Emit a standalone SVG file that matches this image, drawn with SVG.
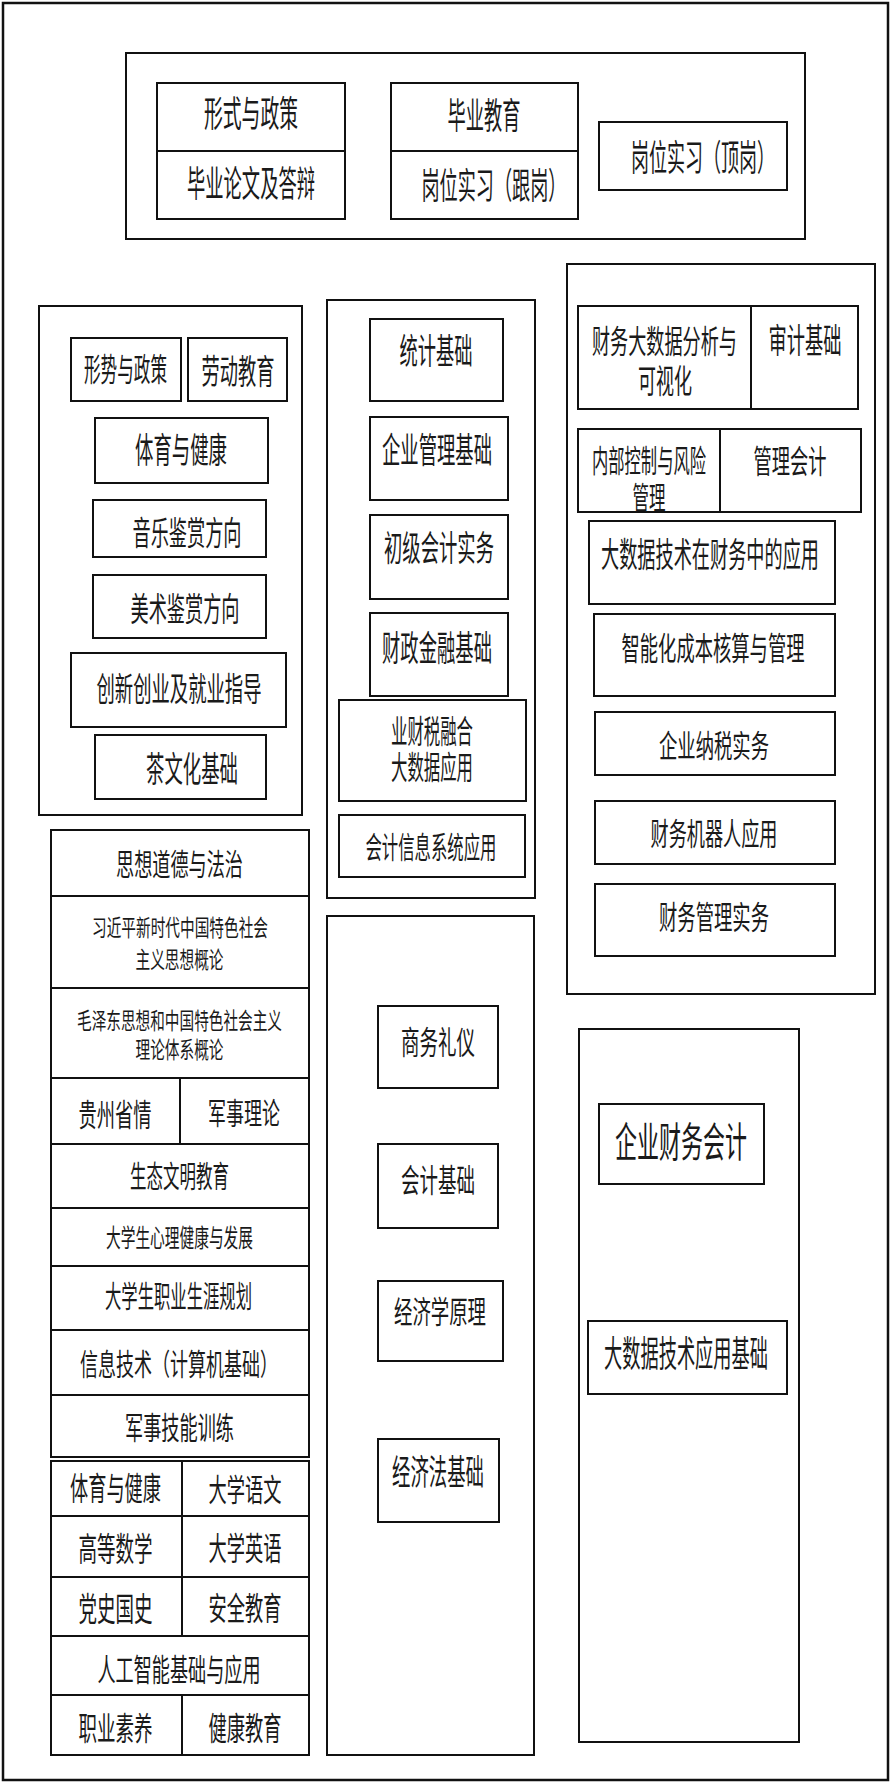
<svg xmlns="http://www.w3.org/2000/svg" width="891" height="1783" viewBox="0 0 891 1783">
<style>
rect{fill:#fff;stroke:#111;stroke-width:2}
.c{fill:#fff;stroke:#111;stroke-width:2}
text{font-family:"Noto Sans CJK SC","Noto Sans CJK JP",sans-serif;fill:#1a1a1a;text-anchor:middle}
</style>
<rect x="0" y="0" width="891" height="1783" style="stroke:none"/>
<rect x="3" y="3" width="885" height="1777" style="stroke-width:2.5"/>

<g id="top-container">
<rect x="126" y="53" width="679" height="186"/>
<g id="n-xingshi"><rect x="157" y="83" width="188" height="68"/><text x="251" y="126.7" font-size="36" textLength="94" lengthAdjust="spacingAndGlyphs">形式与政策</text></g>
<g id="n-biyelunwen"><rect x="157" y="151" width="188" height="68"/><text x="251" y="196.7" font-size="36" textLength="128" lengthAdjust="spacingAndGlyphs">毕业论文及答辩</text></g>
<g id="n-biyejiaoyu"><rect x="391" y="83" width="187" height="68"/><text x="484" y="128.7" font-size="36" textLength="73" lengthAdjust="spacingAndGlyphs">毕业教育</text></g>
<g id="n-genggang"><rect x="391" y="151" width="187" height="68"/><text x="494" y="198.7" font-size="36" textLength="145" lengthAdjust="spacingAndGlyphs">岗位实习（跟岗）</text></g>
<g id="n-dinggang"><rect x="599" y="122" width="188" height="68"/><text x="703" y="170.7" font-size="36" textLength="144" lengthAdjust="spacingAndGlyphs">岗位实习（顶岗）</text></g>
</g>

<g id="left-upper">
<rect x="39" y="306" width="263" height="509"/>
<g id="n-xingshi2"><rect x="71" y="338" width="110" height="63"/><text x="125.5" y="381.2" font-size="32" textLength="83" lengthAdjust="spacingAndGlyphs">形势与政策</text></g>
<g id="n-laodong"><rect x="188" y="338" width="99" height="63"/><text x="238" y="383.9" font-size="34" textLength="73" lengthAdjust="spacingAndGlyphs">劳动教育</text></g>
<g id="n-tiyu1"><rect x="95" y="418" width="173" height="65"/><text x="181" y="463.3" font-size="35" textLength="92" lengthAdjust="spacingAndGlyphs">体育与健康</text></g>
<g id="n-yinyue"><rect x="93" y="500" width="173" height="57"/><text x="187" y="544.5" font-size="33" textLength="109" lengthAdjust="spacingAndGlyphs">音乐鉴赏方向</text></g>
<g id="n-meishu"><rect x="93" y="575" width="173" height="63"/><text x="185" y="620.5" font-size="33" textLength="109" lengthAdjust="spacingAndGlyphs">美术鉴赏方向</text></g>
<g id="n-chuangxin"><rect x="71" y="653" width="215" height="74"/><text x="179" y="700.5" font-size="33" textLength="165" lengthAdjust="spacingAndGlyphs">创新创业及就业指导</text></g>
<g id="n-chawenhua"><rect x="95" y="735" width="171" height="64"/><text x="192" y="782.3" font-size="35" textLength="92" lengthAdjust="spacingAndGlyphs">茶文化基础</text></g>
</g>

<g id="middle-upper">
<rect x="327" y="300" width="208" height="598"/>
<g id="n-tongji"><rect x="370" y="319" width="133" height="82"/><text x="436" y="364.3" font-size="35" textLength="73" lengthAdjust="spacingAndGlyphs">统计基础</text></g>
<g id="n-qiyeguanli"><rect x="370" y="417" width="138" height="83"/><text x="437" y="463.3" font-size="35" textLength="110" lengthAdjust="spacingAndGlyphs">企业管理基础</text></g>
<g id="n-chuji"><rect x="370" y="515" width="138" height="84"/><text x="439" y="561.3" font-size="35" textLength="110" lengthAdjust="spacingAndGlyphs">初级会计实务</text></g>
<g id="n-caizheng"><rect x="370" y="613" width="138" height="83"/><text x="437" y="661.3" font-size="35" textLength="110" lengthAdjust="spacingAndGlyphs">财政金融基础</text></g>
<g id="n-yecaishui"><rect x="339" y="700" width="187" height="101"/><text x="432" y="743.2" font-size="32" textLength="82" lengthAdjust="spacingAndGlyphs">业财税融合</text><text x="432" y="779.2" font-size="32" textLength="82" lengthAdjust="spacingAndGlyphs">大数据应用</text></g>
<g id="n-kuaijixinxi"><rect x="339" y="815" width="186" height="62"/><text x="431" y="858.4" font-size="30" textLength="131" lengthAdjust="spacingAndGlyphs">会计信息系统应用</text></g>
</g>

<g id="right-upper">
<rect x="567" y="264" width="308" height="730"/>
<g id="n-caiwudashuju"><rect x="578" y="306" width="173" height="103"/><text x="664.5" y="353.2" font-size="32" textLength="145" lengthAdjust="spacingAndGlyphs">财务大数据分析与</text><text x="665" y="392.5" font-size="33" textLength="54" lengthAdjust="spacingAndGlyphs">可视化</text></g>
<g id="n-shenji"><rect x="751" y="306" width="107" height="103"/><text x="805" y="352.9" font-size="34" textLength="73" lengthAdjust="spacingAndGlyphs">审计基础</text></g>
<g id="n-neibu"><rect x="578" y="429" width="142" height="83"/><text x="649" y="471.8" font-size="31" textLength="114" lengthAdjust="spacingAndGlyphs">内部控制与风险</text><text x="649" y="508.8" font-size="31" textLength="33" lengthAdjust="spacingAndGlyphs">管理</text></g>
<g id="n-guanlikuaiji"><rect x="720" y="429" width="141" height="83"/><text x="790" y="473.2" font-size="32" textLength="73" lengthAdjust="spacingAndGlyphs">管理会计</text></g>
<g id="n-dashujucaiwu"><rect x="589" y="521" width="246" height="83"/><text x="710" y="566.9" font-size="34" textLength="218" lengthAdjust="spacingAndGlyphs">大数据技术在财务中的应用</text></g>
<g id="n-zhineng"><rect x="594" y="614" width="241" height="82"/><text x="713" y="660.2" font-size="32" textLength="183" lengthAdjust="spacingAndGlyphs">智能化成本核算与管理</text></g>
<g id="n-nashui"><rect x="595" y="712" width="240" height="63"/><text x="714" y="756.8" font-size="31" textLength="110" lengthAdjust="spacingAndGlyphs">企业纳税实务</text></g>
<g id="n-jiqiren"><rect x="595" y="801" width="240" height="63"/><text x="714" y="844.8" font-size="31" textLength="127" lengthAdjust="spacingAndGlyphs">财务机器人应用</text></g>
<g id="n-caiwuguanli"><rect x="595" y="884" width="240" height="72"/><text x="714" y="929.2" font-size="32" textLength="110" lengthAdjust="spacingAndGlyphs">财务管理实务</text></g>
</g>

<g id="left-lower">
<g id="n-sixiang"><rect x="51" y="830" width="258" height="66"/><text x="179.5" y="875.4" font-size="30" textLength="127" lengthAdjust="spacingAndGlyphs">思想道德与法治</text></g>
<g id="n-xi"><rect x="51" y="896" width="258" height="92"/><text x="180" y="935.7" font-size="23" textLength="176" lengthAdjust="spacingAndGlyphs">习近平新时代中国特色社会</text><text x="179.5" y="967.7" font-size="23" textLength="88" lengthAdjust="spacingAndGlyphs">主义思想概论</text></g>
<g id="n-mao"><rect x="51" y="988" width="258" height="90"/><text x="179.5" y="1028.7" font-size="23" textLength="205" lengthAdjust="spacingAndGlyphs">毛泽东思想和中国特色社会主义</text><text x="179.5" y="1057.7" font-size="23" textLength="88" lengthAdjust="spacingAndGlyphs">理论体系概论</text></g>
<g id="n-guizhou"><rect x="51" y="1078" width="129" height="66"/><text x="115" y="1125.8" font-size="31" textLength="73" lengthAdjust="spacingAndGlyphs">贵州省情</text></g>
<g id="n-junshililun"><rect x="180" y="1078" width="129" height="66"/><text x="244" y="1124.4" font-size="30" textLength="72" lengthAdjust="spacingAndGlyphs">军事理论</text></g>
<g id="n-shengtai"><rect x="51" y="1144" width="258" height="64"/><text x="179.5" y="1187.4" font-size="30" textLength="99" lengthAdjust="spacingAndGlyphs">生态文明教育</text></g>
<g id="n-xinli"><rect x="51" y="1208" width="258" height="58"/><text x="179.5" y="1246.5" font-size="25" textLength="147" lengthAdjust="spacingAndGlyphs">大学生心理健康与发展</text></g>
<g id="n-zhiyeshengya"><rect x="51" y="1266" width="258" height="64"/><text x="178.5" y="1307.4" font-size="30" textLength="147" lengthAdjust="spacingAndGlyphs">大学生职业生涯规划</text></g>
<g id="n-xinxi"><rect x="51" y="1330" width="258" height="65"/><text x="179" y="1375.4" font-size="30" textLength="198" lengthAdjust="spacingAndGlyphs">信息技术（计算机基础）</text></g>
<g id="n-junshijineng"><rect x="51" y="1395" width="258" height="62"/><text x="179.5" y="1438.8" font-size="31" textLength="109" lengthAdjust="spacingAndGlyphs">军事技能训练</text></g>
<g id="n-tiyu2"><rect x="51" y="1461" width="131" height="55"/><text x="115.5" y="1500.2" font-size="32" textLength="91" lengthAdjust="spacingAndGlyphs">体育与健康</text></g>
<g id="n-yuwen"><rect x="182" y="1461" width="127" height="55"/><text x="245" y="1500.8" font-size="31" textLength="73" lengthAdjust="spacingAndGlyphs">大学语文</text></g>
<g id="n-shuxue"><rect x="51" y="1516" width="131" height="61"/><text x="115.5" y="1560.5" font-size="33" textLength="74" lengthAdjust="spacingAndGlyphs">高等数学</text></g>
<g id="n-yingyu"><rect x="182" y="1516" width="127" height="61"/><text x="245" y="1560.2" font-size="32" textLength="73" lengthAdjust="spacingAndGlyphs">大学英语</text></g>
<g id="n-dangshi"><rect x="51" y="1577" width="131" height="59"/><text x="115.5" y="1620.5" font-size="33" textLength="74" lengthAdjust="spacingAndGlyphs">党史国史</text></g>
<g id="n-anquan"><rect x="182" y="1577" width="127" height="59"/><text x="245" y="1620.2" font-size="32" textLength="73" lengthAdjust="spacingAndGlyphs">安全教育</text></g>
<g id="n-rengong"><rect x="51" y="1636" width="258" height="59"/><text x="179" y="1680.8" font-size="31" textLength="163" lengthAdjust="spacingAndGlyphs">人工智能基础与应用</text></g>
<g id="n-suyang"><rect x="51" y="1695" width="131" height="60"/><text x="115.5" y="1740.2" font-size="32" textLength="74" lengthAdjust="spacingAndGlyphs">职业素养</text></g>
<g id="n-jiankang"><rect x="182" y="1695" width="127" height="60"/><text x="245" y="1740.2" font-size="32" textLength="73" lengthAdjust="spacingAndGlyphs">健康教育</text></g>
</g>

<g id="middle-lower">
<rect x="327" y="916" width="207" height="839"/>
<g id="n-shangwu"><rect x="378" y="1006" width="120" height="82"/><text x="438" y="1054.2" font-size="32" textLength="74" lengthAdjust="spacingAndGlyphs">商务礼仪</text></g>
<g id="n-kuaijijichu"><rect x="378" y="1144" width="120" height="84"/><text x="438" y="1192.2" font-size="32" textLength="74" lengthAdjust="spacingAndGlyphs">会计基础</text></g>
<g id="n-jingjixue"><rect x="378" y="1281" width="125" height="80"/><text x="440" y="1322.8" font-size="31" textLength="92" lengthAdjust="spacingAndGlyphs">经济学原理</text></g>
<g id="n-jingjifa"><rect x="378" y="1439" width="121" height="83"/><text x="438" y="1485.3" font-size="35" textLength="92" lengthAdjust="spacingAndGlyphs">经济法基础</text></g>
</g>

<g id="right-lower">
<rect x="579" y="1029" width="220" height="713"/>
<g id="n-qiyecaiwu"><rect x="599" y="1104" width="165" height="80"/><text x="681" y="1156.6" font-size="41" textLength="132" lengthAdjust="spacingAndGlyphs">企业财务会计</text></g>
<g id="n-dashujujichu"><rect x="588" y="1321" width="199" height="73"/><text x="686" y="1366.7" font-size="36" textLength="164" lengthAdjust="spacingAndGlyphs">大数据技术应用基础</text></g>
</g>

<g id="connectors"/>
</svg>
